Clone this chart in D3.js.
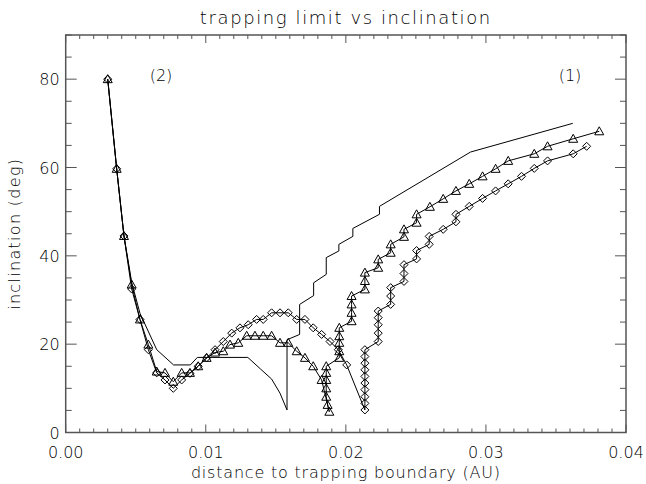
<!DOCTYPE html>
<html>
<head>
<meta charset="utf-8">
<script src="https://cdn.jsdelivr.net/npm/d3@7"></script>
<style>
  body { margin: 0; background: #fff; }
  svg text { font-family: "DejaVu Sans", sans-serif; font-weight: 200; fill: #000; }
</style>
</head>
<body>
<svg id="chart" width="646" height="484"></svg>
<script>
// plain line (no symbols)
const plainX = [0.003, 0.00364, 0.00416, 0.00471, 0.0053, 0.0065, 0.0077, 0.0089, 0.0094, 0.0130,
  0.0139, 0.0147, 0.0153, 0.0158, 0.0158, 0.0167, 0.0167, 0.0177, 0.0177, 0.0186, 0.0186,
  0.0195, 0.0195, 0.0205, 0.0205, 0.0224, 0.0224, 0.0289, 0.0362];
const plainY = [80, 59.7, 44.5, 34, 27, 18.75, 15.3, 15.3, 17.0, 17.0,
  14.4, 12.1, 8.9, 5.1, 21.0, 22.2, 29.0, 31.0, 33.9, 35.8, 39.6,
  41.1, 42.6, 44.4, 46.2, 49.4, 51.2, 63.5, 70.0];

// triangles
const triX = [0.003, 0.00364, 0.00416, 0.00471, 0.0053, 0.0059, 0.0065, 0.00709, 0.00768, 0.00828,
  0.00887, 0.00946, 0.01006, 0.01066, 0.01125, 0.01173, 0.01232, 0.01292, 0.01351, 0.0141,
  0.0147, 0.0153, 0.01589, 0.01649, 0.01708, 0.01767, 0.01827,
  0.01882, 0.0187, 0.0186, 0.0186, 0.0186, 0.0186, 0.0186,
  0.01953, 0.01953, 0.01953, 0.01953, 0.01953,
  0.02041, 0.02041, 0.02041, 0.02041,
  0.02136, 0.02136, 0.02136, 0.02231, 0.02231, 0.0232, 0.0232, 0.02415, 0.02415, 0.02505, 0.02505,
  0.026, 0.02695, 0.02786, 0.02881, 0.02976, 0.03069, 0.03159, 0.03345, 0.0344, 0.03623, 0.03809];
const triY = [80, 59.7, 44.5, 33.5, 25.6, 19.9, 13.8, 13.5, 11.5, 13.5,
  13.5, 15.0, 16.9, 18.1, 18.4, 19.9, 20.3, 21.9, 21.9, 21.9,
  21.9, 20.3, 20.3, 18.4, 16.9, 15.0, 11.9,
  4.7, 6.25, 8.1, 10.0, 11.9, 13.5, 15.0,
  16.9, 18.4, 20.3, 21.8, 23.7,
  25.2, 27.1, 29.0, 30.9,
  32.4, 34.3, 36.2, 37.3, 39.2, 40.7, 42.6, 44.3, 46.0, 47.5, 49.4,
  51.1, 52.9, 54.7, 56.3, 58.0, 59.7, 61.5, 63.1, 64.8, 66.5, 68.2];

// diamonds
const diaX = [0.003, 0.00364, 0.00416, 0.00471, 0.0053, 0.0059, 0.0065, 0.00709, 0.00768, 0.00828,
  0.00887, 0.00946, 0.01006, 0.01066, 0.01125, 0.01185, 0.01244, 0.01303, 0.01363, 0.0141,
  0.0147, 0.0153, 0.01589, 0.01649, 0.01708, 0.01767, 0.01827, 0.01887, 0.01946, 0.02006,
  0.02136, 0.02136, 0.02136, 0.02136, 0.02136, 0.02136, 0.02136, 0.02136, 0.02136, 0.02136,
  0.02231, 0.02231, 0.02231, 0.02231, 0.02231, 0.0232, 0.0232, 0.0232,
  0.02415, 0.02415, 0.02415, 0.02505, 0.02505, 0.02595, 0.02595, 0.02695, 0.02786, 0.02786,
  0.02881, 0.02976, 0.03069, 0.03159, 0.03254, 0.03345, 0.0344, 0.03623, 0.03719];
const diaY = [80, 59.7, 44.5, 32.5, 25.6, 18.75, 13.5, 11.9, 10.0, 11.9,
  13.4, 15.0, 16.9, 18.75, 20.6, 22.5, 23.7, 24.4, 25.6, 25.6,
  27.1, 27.1, 27.1, 25.6, 25.6, 23.7, 22.2, 20.6, 18.75, 15.3,
  5.1, 6.6, 8.1, 9.7, 11.2, 12.7, 14.2, 15.7, 17.2, 18.75,
  20.6, 22.5, 24.4, 26.0, 27.5, 29.0, 30.9, 32.8,
  34.2, 36.0, 38.0, 39.3, 41.2, 42.6, 44.4, 46.0, 47.7, 49.4,
  51.2, 53.0, 54.7, 56.3, 58.0, 59.8, 61.5, 63.1, 64.8];

const xTicks = [0, 0.01, 0.02, 0.03, 0.04];
const yTicks = [0, 20, 40, 60, 80];

const svg = d3.select("#chart");
const plotL = 65.7, plotR = 626, plotT = 35, plotB = 432.5;

const x = d3.scaleLinear().domain([0, 0.04]).range([plotL, plotR]);
const y = d3.scaleLinear().domain([0, 90]).range([plotB, plotT]);

const zip = (xs, ys) => xs.map((d, i) => [d, ys[i]]);

// frame
svg.append("rect")
  .attr("x", plotL).attr("y", plotT)
  .attr("width", plotR - plotL).attr("height", plotB - plotT)
  .attr("fill", "none").attr("stroke", "#555").attr("stroke-width", 1.5);

// ticks on all four sides
const xMinor = d3.range(0, 0.0400001, 0.001);
const yMinor = d3.range(0, 90.0001, 5);
const tickG = svg.append("g").attr("stroke", "#555").attr("stroke-width", 1);
xMinor.forEach((v, i) => {
  const len = i % 10 === 0 ? 8 : 4;
  tickG.append("line").attr("x1", x(v)).attr("x2", x(v)).attr("y1", plotB).attr("y2", plotB - len);
  tickG.append("line").attr("x1", x(v)).attr("x2", x(v)).attr("y1", plotT).attr("y2", plotT + len);
});
yMinor.forEach((v, i) => {
  const len = i % 4 === 0 ? 11 : 6;
  tickG.append("line").attr("y1", y(v)).attr("y2", y(v)).attr("x1", plotL).attr("x2", plotL + len);
  tickG.append("line").attr("y1", y(v)).attr("y2", y(v)).attr("x1", plotR).attr("x2", plotR - len);
});

svg.append("g").selectAll("text").data(xTicks).join("text")
  .attr("x", d => x(d)).attr("y", plotB + 25)
  .attr("text-anchor", "middle").attr("font-size", 16)
  .text(d => d3.format(".2f")(d));

svg.append("g").selectAll("text").data(yTicks).join("text")
  .attr("x", plotL - 6).attr("y", d => y(d) + 6)
  .attr("text-anchor", "end").attr("font-size", 16)
  .text(d => d);

// titles
svg.append("text").attr("x", (plotL + plotR) / 2).attr("y", 24)
  .attr("text-anchor", "middle").attr("font-size", 18).attr("letter-spacing", 1.6)
  .text("trapping limit vs inclination");
svg.append("text").attr("x", (plotL + plotR) / 2).attr("y", 478)
  .attr("text-anchor", "middle").attr("font-size", 16).attr("letter-spacing", 0.8)
  .text("distance to trapping boundary (AU)");
svg.append("text").attr("transform", `translate(20,${(plotT + plotB) / 2}) rotate(-90)`)
  .attr("text-anchor", "middle").attr("font-size", 16).attr("letter-spacing", 1.3)
  .text("inclination (deg)");

svg.append("text").attr("x", 161).attr("y", 81).attr("text-anchor", "middle")
  .attr("font-size", 16).text("(2)");
svg.append("text").attr("x", 570).attr("y", 81).attr("text-anchor", "middle")
  .attr("font-size", 16).text("(1)");

const line = d3.line().x(d => x(d[0])).y(d => y(d[1]));
const series = [zip(plainX, plainY), zip(triX, triY), zip(diaX, diaY)];
svg.append("g").selectAll("path").data(series).join("path")
  .attr("d", line).attr("fill", "none").attr("stroke", "#000").attr("stroke-width", 1);

const triPath = "M0,-4.5L4.5,3.5L-4.5,3.5Z";
const diaPath = "M0,-4L4,0L0,4L-4,0Z";

svg.append("g").selectAll("path").data(zip(triX, triY)).join("path")
  .attr("transform", d => `translate(${x(d[0])},${y(d[1])})`)
  .attr("d", triPath).attr("fill", "none").attr("stroke", "#000").attr("stroke-width", 1);

svg.append("g").selectAll("path").data(zip(diaX, diaY)).join("path")
  .attr("transform", d => `translate(${x(d[0])},${y(d[1])})`)
  .attr("d", diaPath).attr("fill", "none").attr("stroke", "#000").attr("stroke-width", 1);
</script>
</body>
</html>
